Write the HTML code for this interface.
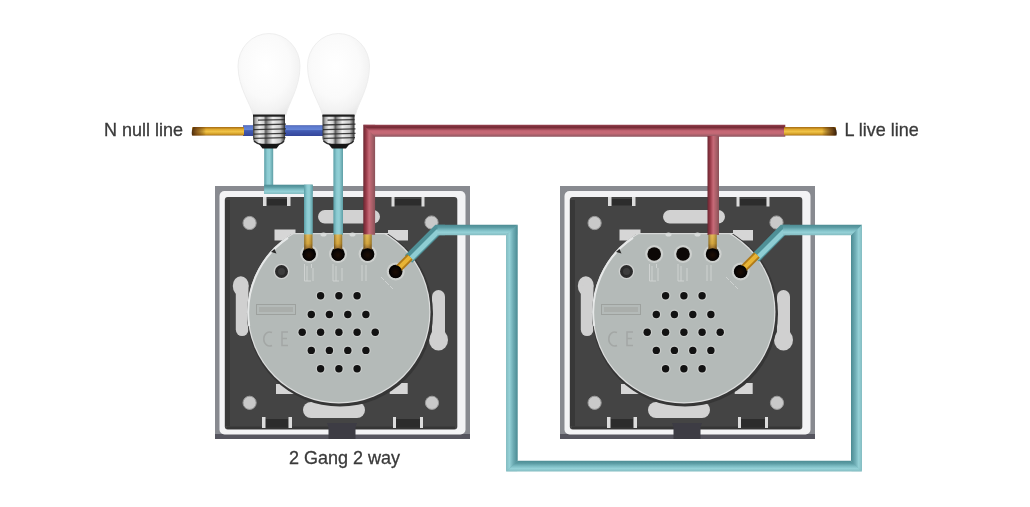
<!DOCTYPE html>
<html><head><meta charset="utf-8">
<style>
html,body{margin:0;padding:0;background:#fff;width:1030px;height:507px;overflow:hidden}
svg{display:block;filter:blur(0.35px)}
text{font-family:"Liberation Sans",sans-serif;font-size:18px;fill:#3a3a3a}
</style></head><body>
<svg width="1030" height="507" viewBox="0 0 1030 507">
<defs>
  <radialGradient id="glass" cx="0.45" cy="0.4" r="0.65">
    <stop offset="0" stop-color="#ffffff"/>
    <stop offset="0.6" stop-color="#fafafa"/>
    <stop offset="0.85" stop-color="#f2f2f2"/>
    <stop offset="1" stop-color="#e8e8e8"/>
  </radialGradient>
  <linearGradient id="metal" x1="0" x2="1" y1="0" y2="0">
    <stop offset="0" stop-color="#3a3a3a"/>
    <stop offset="0.08" stop-color="#a8a8a8"/>
    <stop offset="0.2" stop-color="#ededed"/>
    <stop offset="0.33" stop-color="#d0d0d0"/>
    <stop offset="0.4" stop-color="#5e5e5e"/>
    <stop offset="0.48" stop-color="#a0a0a0"/>
    <stop offset="0.62" stop-color="#f0f0f0"/>
    <stop offset="0.85" stop-color="#c8c8c8"/>
    <stop offset="1" stop-color="#2e2e2e"/>
  </linearGradient>
  <radialGradient id="modg" cx="0.5" cy="0.5" r="0.5">
    <stop offset="0" stop-color="#b9bdba"/>
    <stop offset="0.9" stop-color="#b6bab7"/>
    <stop offset="1" stop-color="#c9ccca"/>
  </radialGradient>
  <radialGradient id="holeg" cx="0.5" cy="0.5" r="0.5">
    <stop offset="0" stop-color="#000"/>
    <stop offset="0.6" stop-color="#0a0a0a"/>
    <stop offset="0.75" stop-color="#2a2a2a"/>
    <stop offset="0.85" stop-color="#d8dad9"/>
    <stop offset="1" stop-color="#b8bcba"/>
  </radialGradient>
  <radialGradient id="screwg" cx="0.45" cy="0.45" r="0.55">
    <stop offset="0" stop-color="#e0e0e0"/>
    <stop offset="0.7" stop-color="#c4c4c4"/>
    <stop offset="1" stop-color="#8a8a8a"/>
  </radialGradient>

  <clipPath id="modclip"><rect x="0" y="47" width="255" height="210"/></clipPath>
  <g id="plate">
    <!-- outer gray border -->
    <rect x="0" y="0" width="255" height="253" fill="#888a90"/>
    <rect x="0" y="248" width="255" height="5" fill="#56555f"/>
    <!-- white inner border -->
    <rect x="4.5" y="5" width="246" height="243.5" rx="5" fill="#f3f3f5"/>
    <!-- dark interior -->
    <rect x="9.8" y="11" width="232.5" height="232.5" rx="3" fill="#444444"/>
    <rect x="12" y="240.5" width="228" height="2.5" fill="#363636"/>
    <rect x="10" y="14" width="5" height="226" fill="#383838"/>
    <!-- screw holes -->
    <g fill="#c9c9c9" stroke="#9a9a9a" stroke-width="1">
    <circle cx="34.6" cy="37" r="6.6"/>
    <circle cx="216.5" cy="36.5" r="6.6"/>
    <circle cx="34.6" cy="216.8" r="6.6"/>
    <circle cx="217" cy="216.8" r="6.6"/>
    </g>
    <!-- slots -->
    <g fill="#2c2c2c">
    <rect x="51.5" y="13" width="20.5" height="6.5"/>
    <rect x="179.5" y="13" width="27" height="6.5"/>
    <rect x="50" y="233" width="23.5" height="8.5"/>
    <rect x="181" y="233" width="24" height="8.5"/>
    </g>
    <g fill="#dcdcdc">
    <rect x="48" y="11" width="3.5" height="9"/><rect x="72" y="11" width="3.5" height="9"/>
    <rect x="176.5" y="11" width="3" height="9.5"/><rect x="206.5" y="11" width="3" height="9.5"/>
    <rect x="47" y="231" width="3.5" height="11"/><rect x="73.5" y="231" width="3.5" height="11"/>
    <rect x="178" y="231" width="3" height="11"/><rect x="205" y="231" width="3" height="11"/>
    </g>
    <!-- bottom notch -->
    <path d="M112,237 H142 L140.5,241 V253 H113.5 V241 Z" fill="#3d3c44"/>
    <!-- light rects -->
    <g fill="#d6d6d6">
    <rect x="59.5" y="43.5" width="21" height="11"/>
    <rect x="173" y="44" width="20" height="10.5"/>
    <rect x="61" y="198" width="18" height="10"/>
    <rect x="174.7" y="197" width="18" height="11"/>
    </g>
    <!-- pills -->
    <rect x="103" y="24" width="62" height="13.5" rx="6.75" fill="#d2d2d2"/>
    <rect x="88" y="216" width="62" height="16" rx="8" fill="#d2d2d2"/>
    <!-- side clips -->
    <g fill="#d0d0d0"><ellipse cx="25.8" cy="100" rx="8" ry="9.8"/><rect x="20.8" y="98" width="12.6" height="52" rx="6.3"/></g>
    <g fill="#d0d0d0"><ellipse cx="223.5" cy="154" rx="9.5" ry="10.5"/><rect x="217" y="104" width="13" height="52" rx="6.5"/></g>
    <!-- module -->
    <g clip-path="url(#modclip)">
      <circle cx="125" cy="127.5" r="93" fill="#363636"/>
      <circle cx="124" cy="126" r="91.5" fill="#dedfdf"/>
      <circle cx="124" cy="126" r="90.3" fill="#b4bab8"/>
    </g>
    <rect x="76" y="47" width="97" height="1.2" fill="#d6d8d7"/>
    <path d="M34.2,140 A90,90 0 0 1 73,51.8" fill="none" stroke="#e6e8e8" stroke-width="2"/>
    <path d="M56,66 l3.5,-3 l2,4.5 z" fill="#2a2a2a"/>
    <!-- logo rect -->
    <rect x="41.5" y="118.5" width="39" height="10" fill="none" stroke="#9da19e" stroke-width="1"/>
    <rect x="44" y="121" width="34" height="5" fill="#aaaeab"/>
    <!-- CE -->
    <path d="M57,146.5 a6,7 0 1 0 0,13" fill="none" stroke="#a3a7a5" stroke-width="1.5"/>
    <path d="M73,146 h-6 v13.5 h6 M67,152.5 h5" fill="none" stroke="#a3a7a5" stroke-width="1.5"/>
    <!-- terminal labels (embossed) -->
    <g fill="none" stroke="#d2d5d4" stroke-width="1" opacity="0.9">
      <path d="M89.5,78 V95 H96 M92,80 V95 M98,82 V95 M96.5,78 V82"/>
      <path d="M118,78 V95 H124 M121,80 V95 M127,82 V95"/>
      <path d="M147,79 V95 M151,79 V95"/>
      <path d="M166,91 l3,3 M170,95 l4,4 M175,100 l3,3"/>
    </g>
    <!-- module top bumps -->
    <g fill="#d8dbda">
      <ellipse cx="108.5" cy="48.5" rx="3" ry="2"/>
      <ellipse cx="137.5" cy="48.5" rx="3" ry="2"/>
    </g>
    <!-- button hole -->
    <circle cx="66.5" cy="85.5" r="7.8" fill="#cfd1d0"/>
    <circle cx="66.5" cy="85.5" r="6.5" fill="#2b2b2b"/>
    <circle cx="66.5" cy="85.5" r="3.5" fill="#3d3d3d"/>
    <!-- vent holes -->
    <g id="vents">
      <circle cx="105.6" cy="109.8" r="3.7"/><circle cx="123.9" cy="109.8" r="3.7"/><circle cx="142.1" cy="109.8" r="3.7"/>
      <circle cx="96.3" cy="128.5" r="3.7"/><circle cx="114.4" cy="128.5" r="3.7"/><circle cx="132.8" cy="128.5" r="3.7"/><circle cx="150.9" cy="128.5" r="3.7"/>
      <circle cx="87.2" cy="146.3" r="3.7"/><circle cx="105.6" cy="146.3" r="3.7"/><circle cx="123.9" cy="146.3" r="3.7"/><circle cx="142.1" cy="146.3" r="3.7"/><circle cx="160.2" cy="146.3" r="3.7"/>
      <circle cx="96.3" cy="164.4" r="3.7"/><circle cx="114.4" cy="164.4" r="3.7"/><circle cx="132.8" cy="164.4" r="3.7"/><circle cx="150.9" cy="164.4" r="3.7"/>
      <circle cx="105.6" cy="182.8" r="3.7"/><circle cx="123.9" cy="182.8" r="3.7"/><circle cx="142.1" cy="182.8" r="3.7"/>
    </g>
    <use href="#vents" fill="none" stroke="#c9ccca" stroke-width="2.4" transform="translate(124 146.3) scale(1) translate(-124 -146.3)"/>
    <use href="#vents" fill="#121212"/>
    <!-- terminal holes -->
    <g fill="#cdd0ce">
    <circle cx="94.2" cy="68" r="9"/>
    <circle cx="123" cy="68" r="9"/>
    <circle cx="152.6" cy="68" r="9"/>
    <circle cx="180.7" cy="85.5" r="9"/>
    </g>
    <g fill="#0c0806">
    <circle cx="94.2" cy="68" r="6.8"/>
    <circle cx="123" cy="68" r="6.8"/>
    <circle cx="152.6" cy="68" r="6.8"/>
    <circle cx="180.7" cy="85.5" r="6.8"/>
    </g>
  </g>
</defs>

<!-- plates -->
<use href="#plate" x="215" y="186"/>
<use href="#plate" x="560" y="186"/>

<!-- wires -->
<defs>
  <linearGradient id="cyH" x1="0" y1="0" x2="0" y2="1">
    <stop offset="0" stop-color="#4c8c93"/><stop offset="0.25" stop-color="#5c9ca4"/>
    <stop offset="0.5" stop-color="#7cbcc3"/><stop offset="0.72" stop-color="#95d1d7"/><stop offset="1" stop-color="#84bcc1"/>
  </linearGradient>
  <linearGradient id="cyVL" x1="0" y1="0" x2="1" y2="0">
    <stop offset="0" stop-color="#84bcc1"/><stop offset="0.3" stop-color="#95d1d7"/>
    <stop offset="0.6" stop-color="#70aeb6"/><stop offset="1" stop-color="#4a8a92"/>
  </linearGradient>
  <linearGradient id="cyVR" x1="0" y1="0" x2="1" y2="0">
    <stop offset="0" stop-color="#4a8a92"/><stop offset="0.4" stop-color="#70aeb6"/>
    <stop offset="0.7" stop-color="#95d1d7"/><stop offset="1" stop-color="#84bcc1"/>
  </linearGradient>
  <linearGradient id="cyV" x1="0" y1="0" x2="1" y2="0">
    <stop offset="0" stop-color="#5a9ea6"/><stop offset="0.35" stop-color="#8ccbd2"/>
    <stop offset="0.6" stop-color="#92d0d6"/><stop offset="1" stop-color="#5e9ea5"/>
  </linearGradient>
  <linearGradient id="rdH" x1="0" y1="0" x2="0" y2="1">
    <stop offset="0" stop-color="#9a4452"/><stop offset="0.2" stop-color="#722833"/>
    <stop offset="0.5" stop-color="#c46674"/><stop offset="0.7" stop-color="#c66a76"/><stop offset="1" stop-color="#8c5660"/>
  </linearGradient>
  <linearGradient id="rdV" x1="0" y1="0" x2="1" y2="0">
    <stop offset="0" stop-color="#6a2530"/><stop offset="0.25" stop-color="#9a3c4a"/>
    <stop offset="0.5" stop-color="#c86a78"/><stop offset="0.75" stop-color="#a86068"/><stop offset="1" stop-color="#8a5058"/>
  </linearGradient>
  <linearGradient id="blH" x1="0" y1="0" x2="0" y2="1">
    <stop offset="0" stop-color="#4a60b0"/><stop offset="0.15" stop-color="#5d7bcf"/>
    <stop offset="0.42" stop-color="#6585d6"/><stop offset="0.5" stop-color="#435cb4"/><stop offset="1" stop-color="#34469a"/>
  </linearGradient>
  <linearGradient id="cuH" x1="0" y1="0" x2="0" y2="1">
    <stop offset="0" stop-color="#a46a12"/><stop offset="0.3" stop-color="#e2ac30"/>
    <stop offset="0.55" stop-color="#f0c448"/><stop offset="0.85" stop-color="#d09a24"/><stop offset="1" stop-color="#9a6412"/>
  </linearGradient>
  <linearGradient id="cuV" x1="0" y1="0" x2="0" y2="1">
    <stop offset="0" stop-color="#e0b040"/><stop offset="0.45" stop-color="#d09a22"/>
    <stop offset="0.8" stop-color="#7a4a12"/><stop offset="1" stop-color="#3a200a"/>
  </linearGradient>
  <linearGradient id="cuVs" x1="0" y1="0" x2="1" y2="0">
    <stop offset="0" stop-color="#000" stop-opacity="0.35"/><stop offset="0.45" stop-color="#fff" stop-opacity="0.12"/>
    <stop offset="1" stop-color="#000" stop-opacity="0.3"/>
  </linearGradient>
</defs>
<!-- cyan from bulbs -->
<rect x="264.2" y="146" width="9" height="48" fill="url(#cyV)"/>
<rect x="264.2" y="184.7" width="48.4" height="9.3" fill="url(#cyH)"/>
<rect x="304" y="184.7" width="8.8" height="50" fill="url(#cyV)"/>
<rect x="333.4" y="146" width="9.6" height="89" fill="url(#cyV)"/>
<!-- long cyan loop -->
<g fill="#6aaab1">
<rect x="506.5" y="225.3" width="10.7" height="9.4"/>
<rect x="506.5" y="461.2" width="10.7" height="9.9"/>
<rect x="851.5" y="461.2" width="10" height="9.9"/>
<rect x="851.5" y="225.3" width="10" height="9.4"/>
</g>
<path d="M408.5,259 L437.5,230 H445" stroke="#4f9097" stroke-width="10.4" stroke-linejoin="miter" fill="none"/>
<path d="M410,259.5 L437.5,232 H445" stroke="#8ecdd3" stroke-width="5" stroke-linejoin="miter" fill="none"/>
<path d="M437.5,224.8 H517.7 L506,235.2 H437.5 Z" fill="url(#cyH)"/>
<path d="M506,235.2 L517.7,224.8 V460.7 L506,471.6 Z" fill="url(#cyVL)"/>
<path d="M506,471.6 H862 L851,460.7 H517.7 Z" fill="url(#cyH)"/>
<path d="M851,460.7 L862,471.6 V224.8 L851,235.2 Z" fill="url(#cyVR)"/>
<path d="M755.5,258 L783,230 H790" stroke="#4f9097" stroke-width="10.4" stroke-linejoin="miter" fill="none"/>
<path d="M757,258.5 L783.5,232 H790" stroke="#8ecdd3" stroke-width="5" stroke-linejoin="miter" fill="none"/>
<path d="M783,224.8 H862 L851,235.2 H783 Z" fill="url(#cyH)"/>
<!-- red -->
<rect x="363.3" y="124.8" width="11.8" height="110" fill="url(#rdV)"/>
<path d="M363.3,124.8 H785.3 V136.8 H375.1 Z" fill="url(#rdH)"/>
<rect x="707.5" y="136" width="11.5" height="99" fill="url(#rdV)"/>
<!-- blue -->
<rect x="243" y="125.2" width="80" height="10.8" fill="url(#blH)"/>
<!-- copper -->
<rect x="192" y="127" width="52" height="8.5" rx="1" fill="url(#cuH)"/>
<rect x="784" y="127" width="52" height="8.5" rx="1" fill="url(#cuH)"/>
<g fill="url(#cuV)">
  <rect x="304.2" y="234.5" width="8.2" height="20"/>
  <rect x="334" y="234.5" width="8.2" height="20"/>
  <rect x="363.5" y="234.5" width="8.2" height="20"/>
  <rect x="708.5" y="234.5" width="8.2" height="20"/>
</g>
<g fill="url(#cuVs)">
  <rect x="304.2" y="234.5" width="8.2" height="20"/>
  <rect x="334" y="234.5" width="8.2" height="20"/>
  <rect x="363.5" y="234.5" width="8.2" height="20"/>
  <rect x="708.5" y="234.5" width="8.2" height="20"/>
</g>
<path d="M410,257 L396,271" stroke="#b07a18" stroke-width="8" fill="none"/>
<path d="M410,257 L398,269" stroke="#e8b435" stroke-width="4" fill="none"/>
<path d="M757,255 L741,271" stroke="#b07a18" stroke-width="8" fill="none"/>
<path d="M757,255 L743,269" stroke="#e8b435" stroke-width="4" fill="none"/>
<!-- dark ends of copper -->
<defs>
<linearGradient id="tipR" x1="0" x2="1" y1="0" y2="0"><stop offset="0" stop-color="#3a1e08" stop-opacity="0"/><stop offset="0.6" stop-color="#5a3210" stop-opacity="0.75"/><stop offset="1" stop-color="#2a1404" stop-opacity="0.95"/></linearGradient>
<linearGradient id="tipL" x1="1" x2="0" y1="0" y2="0"><stop offset="0" stop-color="#3a1e08" stop-opacity="0"/><stop offset="0.6" stop-color="#6a3a10" stop-opacity="0.7"/><stop offset="1" stop-color="#3a1e08" stop-opacity="0.9"/></linearGradient>
</defs>
<path d="M206,127 H193.5 Q191,130 192,135.5 H206 Z" fill="url(#tipL)"/>
<path d="M822,127 H834 Q837.5,129 836.5,135.5 H822 Z" fill="url(#tipR)"/>
<!-- holes over copper -->
<defs><radialGradient id="hg2" cx="0.5" cy="0.55" r="0.5">
  <stop offset="0" stop-color="#1e0e04"/><stop offset="0.7" stop-color="#0c0604"/><stop offset="1" stop-color="#000"/>
</radialGradient></defs>
<g fill="url(#hg2)">
<circle cx="309" cy="254.5" r="6.3"/>
<circle cx="338" cy="254.5" r="6.3"/>
<circle cx="367.6" cy="254.5" r="6.3"/>
<circle cx="712.6" cy="254.5" r="6.3"/>
<circle cx="395.5" cy="271.5" r="6.3"/>
<circle cx="740.5" cy="271.5" r="6.3"/>
</g>
<!-- bulbs -->
<g id="bulb1">
  <path d="M253,115 C251,104 238,88 238,66 A31,32.5 0 0 1 300,66 C300,88 288,104 286,115 Z" fill="url(#glass)" stroke="#ebebeb" stroke-width="0.8"/>
  <path d="M253,115 H285 V138 Q285,142 280,144.5 H258 Q253,142 253,138 Z" fill="url(#metal)"/>
  <rect x="253" y="114.5" width="32" height="2.2" fill="#1e1e1e"/>
  <g stroke="#2c2c2c" stroke-width="1.3" opacity="0.9" fill="none">
    <path d="M258,120.2 L285,119.6"/><path d="M253.5,125 L286,124.2"/><path d="M253.5,129.6 L286,128.8"/><path d="M253.5,134.1 L286,133.3"/><path d="M254,138.4 L285.5,137.6"/>
  </g>
  <path d="M254,141 Q258,144.5 262,144.5 H276 Q281,144.5 284,141" stroke="#2a2a2a" stroke-width="1.4" fill="none"/>
  <path d="M259,144 H280 L276.5,148.5 H262.5 Z" fill="#161616"/>
</g>
<use href="#bulb1" x="69.5" y="0"/>

<!-- labels -->
<text transform="translate(104 136.3) scale(1 1.03)" style="font-size:18px" stroke="#3a3a3a" stroke-width="0.3">N null line</text>
<text transform="translate(844.5 136.3) scale(1 1.03)" style="font-size:18px" stroke="#3a3a3a" stroke-width="0.3">L live line</text>
<text transform="translate(289 463.8) scale(1 1.03)" style="font-size:18px" stroke="#3a3a3a" stroke-width="0.3">2 Gang 2 way</text>
</svg>
</body></html>
